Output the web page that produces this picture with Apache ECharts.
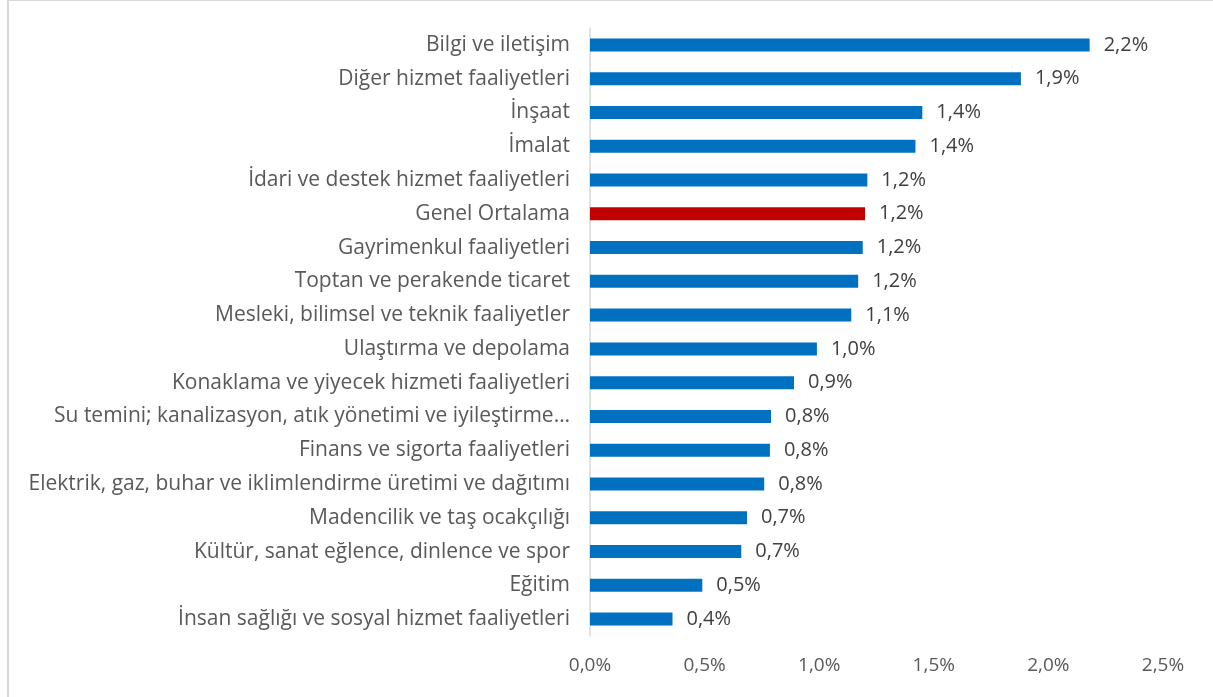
<!DOCTYPE html>
<html>
<head>
<meta charset="utf-8">
<script src="https://cdn.jsdelivr.net/npm/echarts@6/dist/echarts.min.js"></script>
<style>
  html, body { margin: 0; padding: 0; overflow: hidden; background: #fff; }
  #frame { position: absolute; left: 7px; top: 0; width: 1300px; height: 800px;
           border-left: 2px solid #d9d9d9; border-top: 1px solid #d9d9d9; box-sizing: border-box; }
  #chart { position: absolute; left: 0; top: 0; width: 1213px; height: 697px; }
</style>
</head>
<body>
<div id="frame"></div>
<div id="chart"></div>
<script>
// sektörler (yukarıdan aşağıya)
var sektorler = [
  'Bilgi ve iletişim',
  'Diğer hizmet faaliyetleri',
  'İnşaat',
  'İmalat',
  'İdari ve destek hizmet faaliyetleri',
  'Genel Ortalama',
  'Gayrimenkul faaliyetleri',
  'Toptan ve perakende ticaret',
  'Mesleki, bilimsel ve teknik faaliyetler',
  'Ulaştırma ve depolama',
  'Konaklama ve yiyecek hizmeti faaliyetleri',
  'Su temini; kanalizasyon, atık yönetimi ve iyileştirme…',
  'Finans ve sigorta faaliyetleri',
  'Elektrik, gaz, buhar ve iklimlendirme üretimi ve dağıtımı',
  'Madencilik ve taş ocakçılığı',
  'Kültür, sanat eğlence, dinlence ve spor',
  'Eğitim',
  'İnsan sağlığı ve sosyal hizmet faaliyetleri'
];
// oranlar (%)
var oranlar = [2.18, 1.88, 1.45, 1.42, 1.21, 1.20, 1.19, 1.17, 1.14, 0.99, 0.89, 0.79, 0.785, 0.76, 0.685, 0.66, 0.49, 0.36];
var ortalama = 'Genel Ortalama';
var xTicks = { min: 0, max: 2.5, step: 0.5 };

function yuzde(v) {
  return v.toFixed(1).replace('.', ',') + '%';
}

var mChart = echarts.init(document.getElementById('chart'));
mChart.setOption({
  animation: false,
  grid: { left: 590, right: 50, top: 28, bottom: 61, containLabel: false },
  xAxis: {
    type: 'value',
    min: xTicks.min, max: xTicks.max, interval: xTicks.step,
    axisLine: { show: false },
    axisTick: { show: false },
    splitLine: { show: false },
    axisLabel: {
      color: '#595959', fontSize: 19, fontFamily: 'Open Sans', margin: 20,
      formatter: function (v) { return yuzde(v); }
    }
  },
  yAxis: {
    type: 'category',
    inverse: true,
    data: sektorler,
    axisLine: { show: true, lineStyle: { color: '#d9d9d9', width: 1.5 } },
    axisTick: { show: false },
    axisLabel: { color: '#595959', fontSize: 21, fontFamily: 'Open Sans', margin: 20 }
  },
  series: [{
    type: 'bar',
    barWidth: 13,
    data: oranlar.map(function (v, i) {
      return {
        value: v,
        itemStyle: { color: sektorler[i] === ortalama ? '#C00000' : '#0070C0' }
      };
    }),
    label: {
      show: true, position: 'right', distance: 14,
      color: '#404040', fontSize: 20, fontFamily: 'Open Sans',
      formatter: function (p) { return yuzde(p.value); }
    }
  }]
});
</script>
</body>
</html>
